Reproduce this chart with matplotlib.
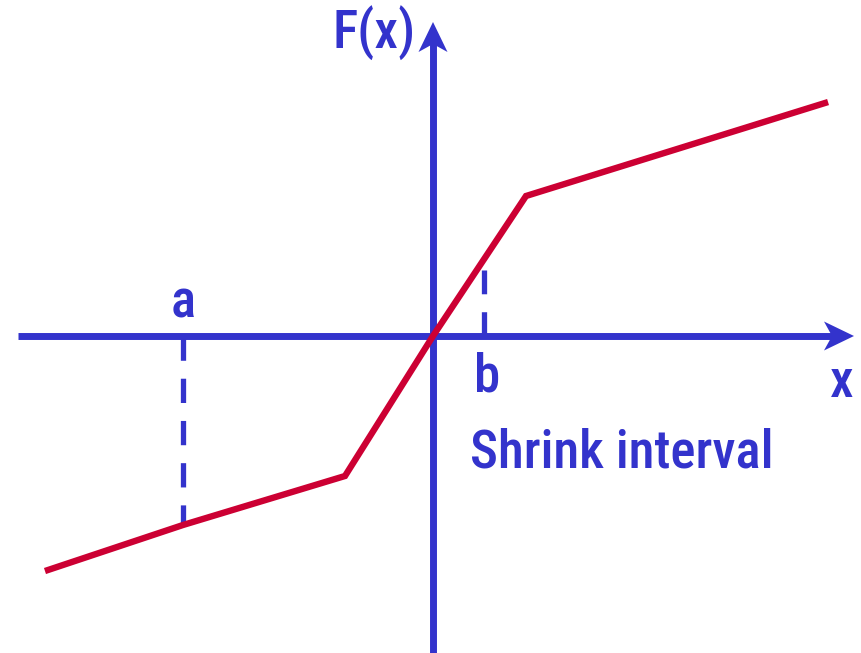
import matplotlib.pyplot as plt
from matplotlib.patches import Polygon

# piecewise-linear F(x)
x = [-3.85, -2.50, -0.88, 0.0, 0.93, 3.92]
y = [-2.34, -1.89, -1.40, 0.0, 1.40, 2.33]

a_x, a_y = -2.50, -1.89   # dashed drop from axis to curve at a
b_x, b_top = 0.51, 0.66   # short dashed tick at b

blue = '#3333cc'
red = '#cc0033'
font = ['Roboto Condensed', 'DejaVu Sans']

fig = plt.figure(figsize=(8.61, 6.53), dpi=100)
ax = fig.add_axes([0, 0, 1, 1])
ax.set_xlim(-4.33, 4.28)
ax.set_ylim(-3.17, 3.36)
ax.axis('off')

# axes lines
x_end, y_end = 4.21, 3.14
ax.plot([-4.15, x_end - 0.2], [0, 0], color=blue, lw=5, solid_capstyle='butt')
ax.plot([0, 0], [-3.17, y_end - 0.2], color=blue, lw=5, solid_capstyle='butt')

# arrow heads (concave back)
L, W, N = 0.30, 0.145, 0.08
ax.add_patch(Polygon([[x_end, 0], [x_end - L, W], [x_end - L + N, 0], [x_end - L, -W]],
                     closed=True, color=blue, lw=0))
ax.add_patch(Polygon([[0, y_end], [W, y_end - L], [0, y_end - L + N], [-W, y_end - L]],
                     closed=True, color=blue, lw=0))

# dashed guides
ax.plot([a_x, a_x], [0, a_y], color=blue, lw=3.8, dashes=(4.6, 3.4))
ax.plot([b_x, b_x], [0, b_top], color=blue, lw=3.8, dashes=(4.6, 3.4))

# F(x)
ax.plot(x, y, color=red, lw=4.6, solid_joinstyle='miter')

kw = dict(color=blue, family=font, fontsize=38, fontweight=500, va='baseline')
ax.text(-1.0, 2.87, 'F(x)', ha='left', **kw)
ax.text(a_x, 0.18, 'a', ha='center', **kw)
ax.text(0.54, -0.56, 'b', ha='center', **kw)
ax.text(4.09, -0.61, 'x', ha='center', **kw)
ax.text(0.37, -1.31, 'Shrink interval', ha='left', **kw)

fig.savefig('out.png', dpi=100)
